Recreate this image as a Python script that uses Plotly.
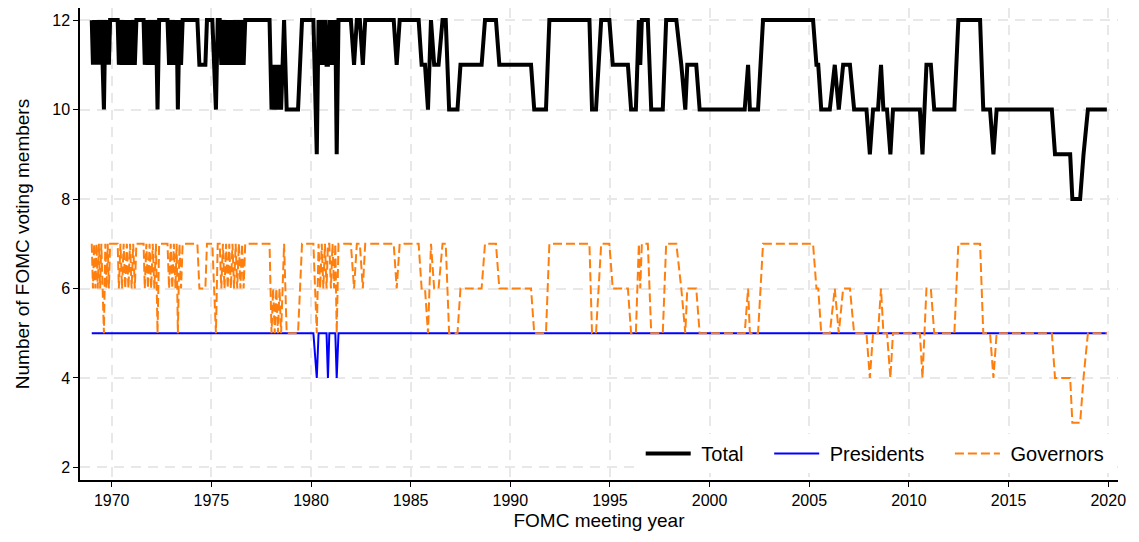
import plotly.graph_objects as go

# FOMC meeting dates (decimal years) and voting members
meeting_year = [
    1969.00, 1969.06, 1969.12, 1969.18, 1969.24, 1969.30, 1969.36, 1969.42, 1969.48, 1969.55,
    1969.61, 1969.68, 1969.74, 1969.80, 1969.86, 1969.92, 1970.05, 1970.20, 1970.30, 1970.36,
    1970.44, 1970.52, 1970.60, 1970.68, 1970.76, 1970.84, 1970.92, 1971.00, 1971.08, 1971.16,
    1971.24, 1971.35, 1971.50, 1971.60, 1971.66, 1971.74, 1971.82, 1971.90, 1971.98, 1972.06,
    1972.14, 1972.22, 1972.30, 1972.38, 1972.50, 1972.65, 1972.80, 1972.88, 1972.96, 1973.04,
    1973.12, 1973.20, 1973.26, 1973.32, 1973.40, 1973.48, 1973.56, 1973.70, 1973.90, 1974.10,
    1974.30, 1974.40, 1974.55, 1974.70, 1974.78, 1974.90, 1975.05, 1975.14, 1975.23, 1975.32,
    1975.42, 1975.50, 1975.58, 1975.66, 1975.74, 1975.82, 1975.90, 1975.98, 1976.06, 1976.14,
    1976.22, 1976.30, 1976.38, 1976.46, 1976.54, 1976.62, 1976.70, 1977.00, 1977.30, 1977.60,
    1977.92, 1978.02, 1978.10, 1978.18, 1978.26, 1978.34, 1978.42, 1978.50, 1978.58, 1978.65,
    1978.78, 1978.95, 1979.15, 1979.35, 1979.55, 1979.75, 1979.95, 1980.12, 1980.29, 1980.38,
    1980.46, 1980.54, 1980.62, 1980.70, 1980.78, 1980.85, 1980.92, 1981.00, 1981.08, 1981.16,
    1981.22, 1981.29, 1981.38, 1981.60, 1981.80, 1982.00, 1982.16, 1982.30, 1982.45, 1982.60,
    1982.72, 1983.00, 1983.40, 1983.80, 1984.15, 1984.30, 1984.45, 1984.80, 1985.10, 1985.40,
    1985.55, 1985.72, 1985.87, 1986.02, 1986.18, 1986.40, 1986.60, 1986.76, 1986.93, 1987.20,
    1987.35, 1987.50, 1988.00, 1988.56, 1988.73, 1989.28, 1989.45, 1990.00, 1990.50, 1991.04,
    1991.20, 1991.79, 1991.96, 1993.00, 1993.97, 1994.10, 1994.30, 1994.56, 1994.97, 1995.14,
    1995.90, 1996.06, 1996.30, 1996.45, 1996.52, 1996.60, 1996.90, 1997.07, 1997.65, 1997.82,
    1998.33, 1998.58, 1998.78, 1998.88, 1999.33, 1999.50, 2000.50, 2001.76, 2001.93, 2002.02,
    2002.43, 2002.68, 2004.00, 2005.19, 2005.36, 2005.45, 2005.60, 2006.03, 2006.28, 2006.48,
    2006.70, 2007.04, 2007.25, 2007.87, 2008.04, 2008.20, 2008.45, 2008.60, 2008.72, 2008.90,
    2009.07, 2009.20, 2010.00, 2010.55, 2010.68, 2010.88, 2011.10, 2011.27, 2012.28, 2012.48,
    2013.57, 2013.73, 2014.07, 2014.24, 2014.40, 2016.00, 2017.17, 2017.33, 2018.09, 2018.20,
    2018.59, 2018.76, 2018.98, 2019.93,
]

total_members = [
    12, 11, 12, 11, 12, 11, 12, 11, 12, 11,
    10, 12, 11, 12, 11, 12, 12, 12, 12, 11,
    12, 11, 12, 11, 12, 11, 12, 11, 12, 11,
    12, 12, 12, 12, 11, 12, 11, 12, 11, 12,
    11, 12, 10, 12, 12, 12, 12, 11, 12, 11,
    12, 11, 12, 10, 12, 11, 12, 12, 12, 12,
    12, 11, 11, 11, 12, 12, 12, 11, 10, 12,
    12, 11, 12, 11, 12, 11, 12, 11, 12, 11,
    12, 11, 12, 11, 12, 11, 12, 12, 12, 12,
    12, 10, 11, 10, 11, 10, 11, 10, 11, 12,
    10, 10, 10, 10, 12, 12, 12, 12, 9, 12,
    11, 12, 11, 12, 11, 11, 12, 11, 12, 11,
    12, 9, 12, 12, 12, 12, 11, 12, 12, 11,
    12, 12, 12, 12, 12, 11, 12, 12, 12, 12,
    11, 11, 10, 12, 11, 11, 12, 12, 10, 10,
    10, 11, 11, 11, 12, 12, 11, 11, 11, 11,
    10, 10, 12, 12, 12, 10, 10, 12, 12, 11,
    11, 10, 10, 12, 11, 12, 12, 10, 10, 12,
    12, 11, 10, 11, 11, 10, 10, 10, 11, 10,
    10, 12, 12, 12, 11, 11, 10, 10, 11, 10,
    11, 11, 10, 10, 9, 10, 10, 11, 10, 10,
    9, 10, 10, 10, 9, 11, 11, 10, 10, 12,
    12, 10, 10, 9, 10, 10, 10, 9, 9, 8,
    8, 9, 10, 10,
]

president_members = [
    5, 5, 5, 5, 5, 5, 5, 5, 5, 5,
    5, 5, 5, 5, 5, 5, 5, 5, 5, 5,
    5, 5, 5, 5, 5, 5, 5, 5, 5, 5,
    5, 5, 5, 5, 5, 5, 5, 5, 5, 5,
    5, 5, 5, 5, 5, 5, 5, 5, 5, 5,
    5, 5, 5, 5, 5, 5, 5, 5, 5, 5,
    5, 5, 5, 5, 5, 5, 5, 5, 5, 5,
    5, 5, 5, 5, 5, 5, 5, 5, 5, 5,
    5, 5, 5, 5, 5, 5, 5, 5, 5, 5,
    5, 5, 5, 5, 5, 5, 5, 5, 5, 5,
    5, 5, 5, 5, 5, 5, 5, 5, 4, 5,
    5, 5, 5, 5, 5, 4, 5, 5, 5, 5,
    5, 4, 5, 5, 5, 5, 5, 5, 5, 5,
    5, 5, 5, 5, 5, 5, 5, 5, 5, 5,
    5, 5, 5, 5, 5, 5, 5, 5, 5, 5,
    5, 5, 5, 5, 5, 5, 5, 5, 5, 5,
    5, 5, 5, 5, 5, 5, 5, 5, 5, 5,
    5, 5, 5, 5, 5, 5, 5, 5, 5, 5,
    5, 5, 5, 5, 5, 5, 5, 5, 5, 5,
    5, 5, 5, 5, 5, 5, 5, 5, 5, 5,
    5, 5, 5, 5, 5, 5, 5, 5, 5, 5,
    5, 5, 5, 5, 5, 5, 5, 5, 5, 5,
    5, 5, 5, 5, 5, 5, 5, 5, 5, 5,
    5, 5, 5, 5,
]

governor_members = [
    7, 6, 7, 6, 7, 6, 7, 6, 7, 6,
    5, 7, 6, 7, 6, 7, 7, 7, 7, 6,
    7, 6, 7, 6, 7, 6, 7, 6, 7, 6,
    7, 7, 7, 7, 6, 7, 6, 7, 6, 7,
    6, 7, 5, 7, 7, 7, 7, 6, 7, 6,
    7, 6, 7, 5, 7, 6, 7, 7, 7, 7,
    7, 6, 6, 6, 7, 7, 7, 6, 5, 7,
    7, 6, 7, 6, 7, 6, 7, 6, 7, 6,
    7, 6, 7, 6, 7, 6, 7, 7, 7, 7,
    7, 5, 6, 5, 6, 5, 6, 5, 6, 7,
    5, 5, 5, 5, 7, 7, 7, 7, 5, 7,
    6, 7, 6, 7, 6, 7, 7, 6, 7, 6,
    7, 5, 7, 7, 7, 7, 6, 7, 7, 6,
    7, 7, 7, 7, 7, 6, 7, 7, 7, 7,
    6, 6, 5, 7, 6, 6, 7, 7, 5, 5,
    5, 6, 6, 6, 7, 7, 6, 6, 6, 6,
    5, 5, 7, 7, 7, 5, 5, 7, 7, 6,
    6, 5, 5, 7, 6, 7, 7, 5, 5, 7,
    7, 6, 5, 6, 6, 5, 5, 5, 6, 5,
    5, 7, 7, 7, 6, 6, 5, 5, 6, 5,
    6, 6, 5, 5, 4, 5, 5, 6, 5, 5,
    4, 5, 5, 5, 4, 6, 6, 5, 5, 7,
    7, 5, 5, 4, 5, 5, 5, 4, 4, 3,
    3, 4, 5, 5,
]

series_names = ["Total", "Presidents", "Governors"]
x_ticks = [1970, 1975, 1980, 1985, 1990, 1995, 2000, 2005, 2010, 2015, 2020]
y_ticks = [2, 4, 6, 8, 10, 12]

FONT = "Arial, 'Liberation Sans', Helvetica, sans-serif"
LEAD = "\u00a0"                       # gap between legend sample and text
TRAIL = "\u00a0\u00a0\u00a0\u2009"    # gap after legend text


def legend_label(name, last=False):
    return LEAD + name + ("" if last else TRAIL)


fig = go.Figure()
fig.add_trace(go.Scatter(x=meeting_year, y=total_members, mode="lines",
                         name=legend_label(series_names[0]),
                         line=dict(color="black", width=4)))
fig.add_trace(go.Scatter(x=meeting_year, y=president_members, mode="lines",
                         name=legend_label(series_names[1]),
                         line=dict(color="#0000FF", width=2)))
fig.add_trace(go.Scatter(x=meeting_year, y=governor_members, mode="lines",
                         name=legend_label(series_names[2], last=True),
                         line=dict(color="#FF7F0E", width=2, dash="9px,4px")))

fig.update_layout(
    width=1139, height=542,
    margin=dict(l=80, r=21, t=8, b=62, autoexpand=False),
    paper_bgcolor="white", plot_bgcolor="white",
    font=dict(family=FONT, size=16, color="black"),
    showlegend=True,
    legend=dict(orientation="h", x=0.992, xanchor="right", y=0.015, yanchor="bottom",
                bgcolor="white", font=dict(size=20), traceorder="normal",
                itemwidth=45),
)
fig.update_xaxes(
    range=[1968.41, 2020.49], tickvals=x_ticks, ticktext=[str(v) for v in x_ticks],
    showline=True, linecolor="black", linewidth=1.5, ticks="outside", ticklen=5,
    tickcolor="black", showgrid=True, gridcolor="#e8e8e8", griddash="10px,7px",
    gridwidth=1.5, zeroline=False, tickfont=dict(size=16),
    title=dict(text="FOMC meeting year", font=dict(size=19), standoff=6),
)
fig.update_yaxes(
    range=[1.72, 12.27], tickvals=y_ticks, ticktext=[str(v) for v in y_ticks],
    showline=True, linecolor="black", linewidth=1.5, ticks="outside", ticklen=5,
    tickcolor="black", showgrid=True, gridcolor="#e8e8e8", griddash="10px,7px",
    gridwidth=1.5, zeroline=False, tickfont=dict(size=16),
    title=dict(text="Number of FOMC voting members", font=dict(size=19), standoff=18),
)

fig.write_html("out.html", config={"displayModeBar": False},
               post_script="document.body.style.margin='0';")
